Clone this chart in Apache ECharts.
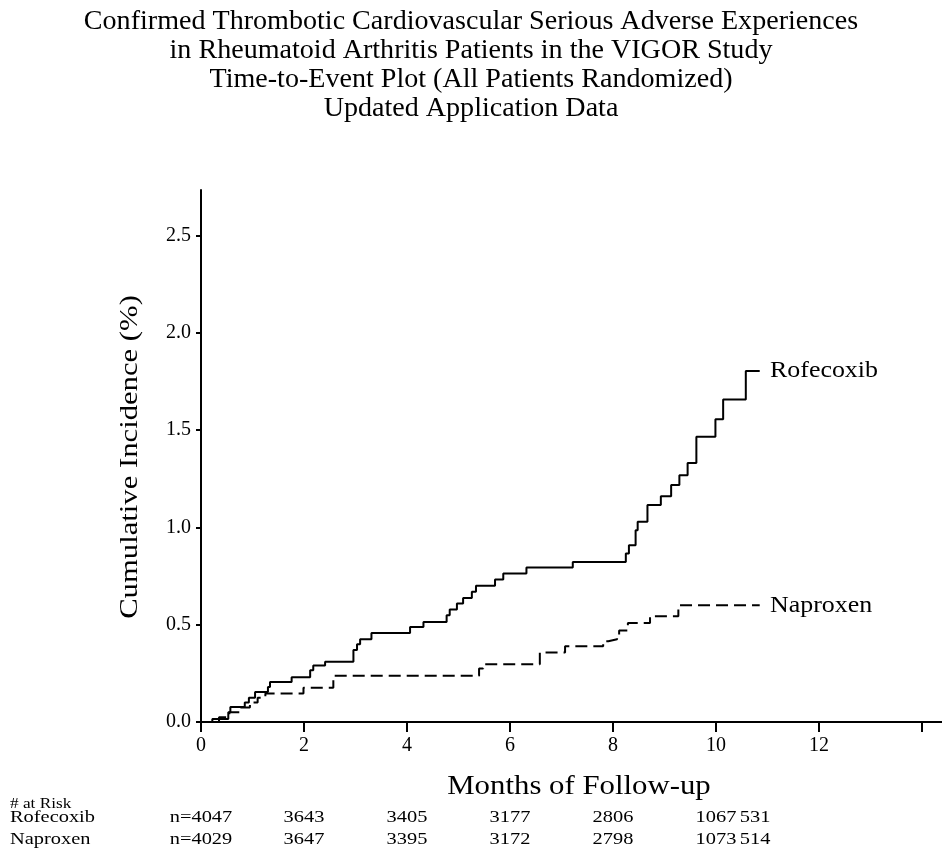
<!DOCTYPE html>
<html><head><meta charset="utf-8">
<script src="https://cdn.jsdelivr.net/npm/echarts@6/dist/echarts.min.js"></script>
<style>html,body{margin:0;padding:0;background:#fff}#c{width:942px;height:863px}</style>
</head><body><div id="c"></div>
<script>
const titleLines = [
  'Confirmed Thrombotic Cardiovascular Serious Adverse Experiences',
  'in Rheumatoid Arthritis Patients in the VIGOR Study',
  'Time-to-Event Plot (All Patients Randomized)',
  'Updated Application Data'
];
const xAxisTitle = 'Months of Follow-up';
const yAxisTitle = 'Cumulative Incidence (%)';
const seriesNames = ['Rofecoxib', 'Naproxen'];
const rofTimes  = [0, 0.22, 0.53, 0.57, 0.85, 0.93, 1.05, 1.30, 1.34, 1.76, 2.12, 2.18, 2.41, 2.96, 3.03, 3.09, 3.31, 4.06, 4.32, 4.77, 4.83, 4.97, 5.09, 5.26, 5.34, 5.71, 5.87, 6.32, 7.22, 8.25, 8.31, 8.44, 8.48, 8.67, 8.93, 9.13, 9.29, 9.45, 9.62, 9.99, 10.14, 10.58, 10.85];
const rofValues = [0, 0.015, 0.05, 0.077, 0.10, 0.125, 0.154, 0.18, 0.206, 0.23, 0.266, 0.29, 0.31, 0.37, 0.40, 0.425, 0.458, 0.489, 0.514, 0.549, 0.578, 0.609, 0.638, 0.669, 0.70, 0.733, 0.763, 0.794, 0.823, 0.866, 0.909, 0.986, 1.029, 1.115, 1.161, 1.218, 1.269, 1.332, 1.466, 1.557, 1.658, 1.804, 1.804];
const napTimes  = [0, 0.35, 0.55, 0.75, 0.95, 1.10, 1.25, 1.99, 2.57, 5.40, 5.48, 6.58, 7.07, 7.81, 7.91, 8.08, 8.12, 8.29, 8.72, 9.27, 10.85];
const napValues = [0, 0.025, 0.05, 0.075, 0.10, 0.125, 0.146, 0.176, 0.238, 0.275, 0.297, 0.357, 0.389, 0.415, 0.425, 0.446, 0.470, 0.509, 0.544, 0.600, 0.600];
const xTickValues = [0, 2, 4, 6, 8, 10, 12, 14];
const xLabelValues = [0, 2, 4, 6, 8, 10, 12];
const yTickValues = [0, 0.5, 1.0, 1.5, 2.0, 2.5];
const riskHeader = '# at Risk';
const riskTimes = [0, 2, 4, 6, 8, 10, 10.76];
const rofRisk = ['n=4047', '3643', '3405', '3177', '2806', '1067', '531'];
const napRisk = ['n=4029', '3647', '3395', '3172', '2798', '1073', '514'];

const FONT = '"Liberation Serif", "Times New Roman", serif';
const chart = echarts.init(document.getElementById('c'), null, {renderer: 'canvas'});
const toPairs = (ts, vs) => ts.map((t, i) => [t, vs[i]]);

chart.setOption({
  animation: false,
  backgroundColor: '#fff',
  grid: {left: 201, right: 0, top: 190, bottom: 141, containLabel: false},
  xAxis: {
    type: 'value', min: 0, max: 14.39, interval: 2,
    axisLine: {show: true, onZero: false, lineStyle: {color: '#000', width: 2}},
    axisTick: {show: true, customValues: xTickValues, length: 10, lineStyle: {color: '#000', width: 2}},
    axisLabel: {customValues: xLabelValues, margin: 14, fontFamily: FONT, fontSize: 20, color: '#000'},
    splitLine: {show: false}
  },
  yAxis: {
    type: 'value', min: 0, max: 2.735, interval: 0.5,
    axisLine: {show: true, lineStyle: {color: '#000', width: 2}},
    axisTick: {show: true, customValues: yTickValues, length: 5, lineStyle: {color: '#000', width: 2}},
    axisLabel: {customValues: yTickValues, formatter: v => v.toFixed(1), margin: 10, fontFamily: FONT, fontSize: 20, color: '#000'},
    splitLine: {show: false}
  },
  series: [
    {
      name: seriesNames[0], type: 'line', step: 'end', symbol: 'none',
      data: toPairs(rofTimes, rofValues),
      lineStyle: {color: '#000', width: 2, type: 'solid'}
    },
    {
      name: seriesNames[1], type: 'line', step: 'end', symbol: 'none',
      data: toPairs(napTimes, napValues),
      lineStyle: {color: '#000', width: 2, type: [12, 6]}
    }
  ]
});

const px = t => chart.convertToPixel({xAxisIndex: 0}, t);
const py = v => chart.convertToPixel({yAxisIndex: 0}, v);
const textEl = (x, y, text, size, align, sx, rot) => ({
  type: 'text', x: x, y: y, silent: true, scaleX: sx || 1, rotation: rot || 0,
  style: {text: text, fill: '#000', fontFamily: FONT, fontSize: size, textAlign: align || 'left', textVerticalAlign: 'middle'}
});
const graphics = [];
titleLines.forEach((line, i) => graphics.push(textEl(471, 22 + i * 29, line, 27, 'center', 1.04)));
graphics.push(textEl(579, 787, xAxisTitle, 28, 'center', 1.1));
graphics.push(textEl(130, 457, yAxisTitle, 26, 'center', 1.18, Math.PI / 2));
graphics.push(textEl(770, py(rofValues[rofValues.length - 1]), seriesNames[0], 24, 'left', 1.08));
graphics.push(textEl(770, py(napValues[napValues.length - 1]), seriesNames[1], 24, 'left', 1.08));
graphics.push(textEl(10, 804, riskHeader, 15, 'left', 1.15));
graphics.push(textEl(10, 818, seriesNames[0], 17, 'left', 1.2));
graphics.push(textEl(10, 840, seriesNames[1], 17, 'left', 1.2));
riskTimes.forEach((t, i) => {
  graphics.push(textEl(px(t), 818, rofRisk[i], 17, 'center', 1.2));
  graphics.push(textEl(px(t), 840, napRisk[i], 17, 'center', 1.2));
});
chart.setOption({graphic: graphics});
</script>
</body></html>
